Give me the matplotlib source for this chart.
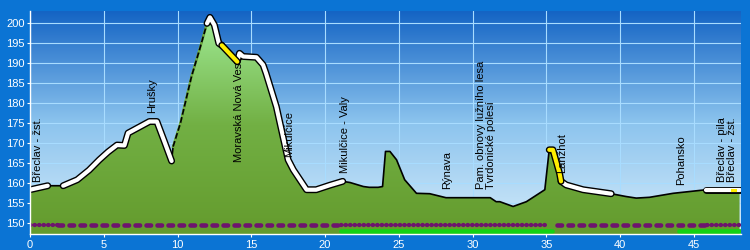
import numpy as np
import matplotlib
matplotlib.use("Agg")
import matplotlib.pyplot as plt
from matplotlib.patches import Polygon
from matplotlib.colors import LinearSegmentedColormap

plt.rcParams["font.family"] = ["Liberation Sans", "DejaVu Sans"]

# ─── Data ───
km = [0, 0.6, 1.2, 2.25, 3.2, 4.0, 4.7, 5.3, 5.9, 6.4, 6.65, 7.45, 8.1, 8.6, 9.1, 9.6,
      9.7, 10.2, 10.95, 11.5, 12.0, 12.2, 12.5, 12.8, 13.0, 14.05, 14.2, 14.45, 15.35,
      15.8, 16.0, 16.7, 17.5, 17.85, 18.75, 19.4, 20.3, 21.2, 21.7, 22.6, 23.0, 23.6,
      23.9, 24.1, 24.4, 24.85, 25.4, 26.2, 27.1, 28.2, 31.2, 31.6, 31.85, 32.75, 33.65,
      34.9, 35.2, 35.45, 35.9, 36.0, 36.35, 37.5, 39.4, 40.4, 41.1, 42.0, 43.6, 45.85, 48.1]
elev = [158.3, 158.8, 159.3, 159.3, 160.8, 163.2, 165.8, 167.8, 169.5, 169.4, 172.5, 174.1,
        175.4, 175.4, 170.5, 165.5, 169.1, 175.0, 186.7, 193.5, 200.0, 201.5, 199.6, 195.0,
        194.5, 190.4, 192.5, 191.7, 191.5, 189.6, 187.5, 179.1, 165.8, 163.3, 158.3, 158.3,
        159.4, 160.4, 160.1, 159.1, 158.9, 158.9, 159.1, 167.9, 167.9, 165.8, 160.8, 157.4,
        157.3, 156.3, 156.3, 155.3, 155.3, 154.1, 155.3, 158.3, 168.3, 168.3, 162.4, 160.4,
        159.5, 158.3, 157.3, 156.6, 156.2, 156.4, 157.4, 158.3, 158.3]

white_segs = [(0, 1.2), (2.25, 9.6), (12.0, 13.0), (14.05, 21.2), (36.0, 39.4), (45.85, 48.1)]
yellow_segs = [(13.0, 14.05), (35.2, 36.0)]
yellow_marks = [(47.6, 47.8)]
dashed_segs = [(9.7, 12.0)]

dot_segs = [(0, 1.9), (21.1, 35.1), (45.9, 48.1)]
dash_segs = [(1.9, 21.1), (35.7, 45.9)]
green_segs = [(21.1, 35.4), (44.0, 48.1)]

labels = ["Břeclav - žst.", "Hrušky", "Moravská Nová Ves", "Mikulčice", "Mikulčice - Valy",
          "Rýnava", "Pam. obnovy lužního lesa\nTvrdonické polesí", "Lanžhot", "Pohansko",
          "Břeclav - pila\nBřeclav - žst."]
label_km = [0.55, 8.25, 14.2, 17.6, 21.35, 28.3, 30.9, 36.1, 44.15, 47.25]
label_elev = [160.3, 177.6, 165.3, 166.5, 162.5, 158.5, 158.5, 162.4, 159.5, 160.3]

XMAX = 48.2
YMIN, YMAX = 147.2, 203.1

km = np.array(km)
elev = np.array(elev)


def part(a, b):
    inner = (km > a) & (km < b)
    xs = np.concatenate([[a], km[inner], [b]])
    return xs, np.interp(xs, km, elev)


# ─── Figure ───
fig = plt.figure(figsize=(7.5, 2.5), dpi=100, facecolor="#0b74d4")
ax = fig.add_axes([30 / 750, 16 / 250, 711 / 750, 223 / 250])

# sky gradient
sky = LinearSegmentedColormap.from_list("sky", ["#d4ebfa", "#8cc4ee", "#1464c4"])
grad = np.linspace(0, 1, 256).reshape(-1, 1)
ax.imshow(grad, cmap=sky, extent=[0, XMAX, YMIN, YMAX], aspect="auto",
          origin="lower", zorder=0)

ax.set_axisbelow(True)
ax.grid(True, color="#a8dcff", linewidth=0.8)

# green fill with vertical gradient
verts = np.column_stack([np.concatenate([[km[0]], km, [km[-1]]]),
                         np.concatenate([[YMIN], elev, [YMIN]])])
poly = Polygon(verts, closed=True, facecolor="none", edgecolor="none", zorder=2)
ax.add_patch(poly)
grass = LinearSegmentedColormap.from_list("grass", ["#649b2d", "#72b044", "#a0eb96"])
im = ax.imshow(grad, cmap=grass, extent=[0, XMAX, YMIN, 202], aspect="auto",
               origin="lower", zorder=2)
im.set_clip_path(poly)

# profile line
ax.plot(km, elev, color="black", linewidth=1.2, zorder=3)
for a, b in dashed_segs:
    xs, ys = part(a, b)
    ax.plot(xs, ys, color="#70b040", linewidth=1.8, zorder=3.5)
    ax.plot(xs, ys, color="black", linewidth=1.2, dashes=(3.5, 1.5), zorder=3.6)
for a, b in white_segs:
    xs, ys = part(a, b)
    ax.plot(xs, ys, color="black", linewidth=5.0, solid_capstyle="round", zorder=4)
    ax.plot(xs, ys, color="white", linewidth=3.0, solid_capstyle="round", zorder=4.1)
for a, b in yellow_segs:
    xs, ys = part(a, b)
    ax.plot(xs, ys, color="black", linewidth=5.0, solid_capstyle="round", zorder=4.2)
    ax.plot(xs, ys, color="#ffee00", linewidth=3.0, solid_capstyle="round", zorder=4.3)
for a, b in yellow_marks:
    xs, ys = part(a, b)
    ax.plot(xs, ys, color="#ffee00", linewidth=2.2, zorder=4.3)

# track markers along bottom
for a, b in green_segs:
    ax.plot([a, b], [147.95, 147.95], color="#14d214", linewidth=3.4,
            solid_capstyle="round", zorder=5)
for a, b in dot_segs:
    ax.plot([a, b], [149.5, 149.5], color="#6e146e", linewidth=3.1,
            dashes=(0.1, 0.95), dash_capstyle="round", zorder=5.1)
for a, b in dash_segs:
    ax.plot([a, b], [149.5, 149.5], color="#6e146e", linewidth=3.3,
            dashes=(1.0, 1.4), dash_capstyle="round", zorder=5.1)

for t, x, y in zip(labels, label_km, label_elev):
    ax.text(x, y, t, rotation=90, ha="center", va="bottom", multialignment="left",
            fontsize=8, color="black", linespacing=1.0, zorder=6)

ax.set_xlim(0, XMAX)
ax.set_ylim(YMIN, YMAX)
ax.set_xticks(np.arange(0, 46, 5))
ax.set_yticks(np.arange(150, 201, 5))
ax.tick_params(colors="white", labelsize=8, length=2.5, width=0.8, pad=1.5)
for s in ["top", "right"]:
    ax.spines[s].set_visible(False)
for s in ["left", "bottom"]:
    ax.spines[s].set_color("white")
    ax.spines[s].set_linewidth(1.0)
    ax.spines[s].set_zorder(7)

fig.savefig("out.png", dpi=100, facecolor=fig.get_facecolor())
